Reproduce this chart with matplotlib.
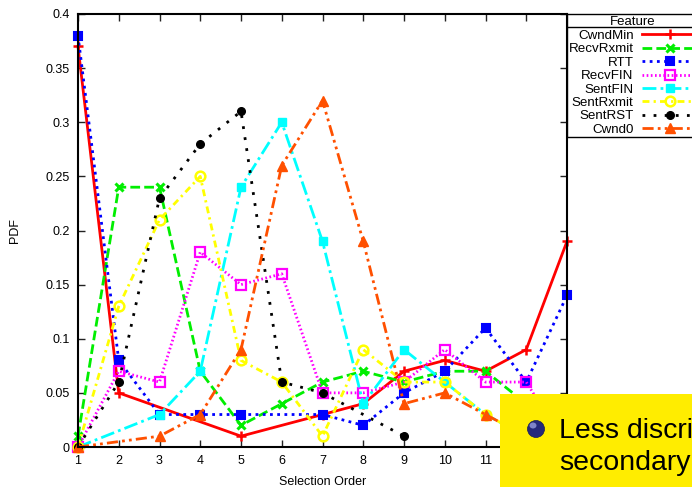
import matplotlib
matplotlib.use("Agg")
import matplotlib.pyplot as plt
from matplotlib.lines import Line2D
from matplotlib.patches import Rectangle, Ellipse

plt.rcParams['font.family'] = ['Liberation Sans', 'DejaVu Sans']

# ---------------- data ----------------
selection_order = [1, 2, 3, 4, 5, 6, 7, 8, 9, 10, 11, 12, 13]
x_tick_labels = ["1", "2", "3", "4", "5", "6", "7", "8", "9", "10", "11", "", ""]
cwnd_min   = [0.37, 0.05, None, None, 0.01, None, 0.03, 0.04, 0.07, 0.08, 0.07, 0.09, 0.19]
recv_rxmit = [0.01, 0.24, 0.24, 0.07, 0.02, 0.04, 0.06, 0.07, 0.06, 0.07, 0.07, 0.04, 0.02]
rtt        = [0.38, 0.08, 0.03, 0.03, 0.03, None, 0.03, 0.02, 0.05, 0.07, 0.11, 0.06, 0.14]
recv_fin   = [0.00, 0.07, 0.06, 0.18, 0.15, 0.16, 0.05, 0.05, 0.06, 0.09, 0.06, 0.06, 0.00]
sent_fin   = [0.00, None, 0.03, 0.07, 0.24, 0.30, 0.19, 0.04, 0.09, 0.06, 0.03, 0.01, None]
sent_rxmit = [0.00, 0.13, 0.21, 0.25, 0.08, 0.06, 0.01, 0.09, 0.06, 0.06, 0.03, 0.01, None]
sent_rst   = [0.00, 0.06, 0.23, 0.28, 0.31, 0.06, 0.05, None, 0.01, None, None, None, None]
cwnd0      = [0.00, None, 0.01, 0.03, 0.09, 0.26, 0.32, 0.19, 0.04, 0.05, 0.03, 0.01, None]

series_names = ["CwndMin", "RecvRxmit", "RTT", "RecvFIN", "SentFIN",
                "SentRxmit", "SentRST", "Cwnd0"]
series_values = [cwnd_min, recv_rxmit, rtt, recv_fin, sent_fin,
                 sent_rxmit, sent_rst, cwnd0]
y_ticks = [0, 0.05, 0.1, 0.15, 0.2, 0.25, 0.3, 0.35, 0.4]
y_tick_labels = ["0", "0.05", "0.1", "0.15", "0.2", "0.25", "0.3", "0.35", "0.4"]

styles = [
    dict(color="#ff0000", ls="-", marker="+", ms=7, mew=1.8, mfc="#ff0000"),
    dict(color="#00ee00", ls=(0, (3.5, 1.5)), marker="x", ms=6, mew=2.2, mfc="#00ee00"),
    dict(color="#0000ff", ls=(0, (1, 1.6)), marker="s", ms=5.5, mew=1.5, mfc="#0000ff"),
    dict(color="#ff00ff", ls=(0, (0.6, 0.9)), marker="s", ms=6.5, mew=1.6, mfc="none"),
    dict(color="#00ffff", ls=(0, (5, 1.5, 1, 1.5)), marker="s", ms=6, mew=1, mfc="#00ffff"),
    dict(color="#ffff00", ls=(0, (2.5, 1.5, 0.8, 1.5)), marker="o", ms=7, mew=1.8, mfc="none"),
    dict(color="#000000", ls=(0, (1, 3)), marker="o", ms=5.5, mew=1, mfc="#000000"),
    dict(color="#ff5000", ls=(0, (4, 1.5, 1, 1.5, 1, 1.5)), marker="^", ms=7, mew=1, mfc="#ff5000"),
]

W, H = 692, 487
fig = plt.figure(figsize=(W / 100, H / 100), dpi=100)
ax = fig.add_axes([78 / W, 1 - 447 / H, (567 - 78) / W, (447 - 14) / H])

for name, vals, st in zip(series_names, series_values, styles):
    xs = [x for x, v in zip(selection_order, vals) if v is not None]
    ys = [v for v in vals if v is not None]
    ax.plot(xs, ys, color=st["color"], ls=st["ls"], lw=2.0,
            marker=st["marker"], ms=st["ms"], mew=st["mew"],
            mfc=st["mfc"], mec=st["color"], label=name, clip_on=False)

ax.set_xlim(1, 13)
ax.set_ylim(0, 0.4)
ax.set_xticks(selection_order)
ax.set_xticklabels(x_tick_labels)
ax.set_yticks(y_ticks)
ax.set_yticklabels(y_tick_labels)
ax.tick_params(direction="in", length=5, width=1, top=True, right=True,
               labelsize=9, pad=6, colors="#222222", labelcolor="black")
for sp in ax.spines.values():
    sp.set_linewidth(1.5)

ax.set_xlabel("Selection Order", fontsize=9)
ax.xaxis.set_label_coords(0.5, (447 - 482) / 433)
ax.xaxis.label.set_va("center")
ax.set_ylabel("PDF", fontsize=9)
ax.yaxis.set_label_coords((15 - 78) / 489, 0.5)
ax.yaxis.label.set_va("center")

leg = ax.legend(loc="upper left", bbox_to_anchor=(567 / W, 1 - 14 / H),
                bbox_transform=fig.transFigure, borderaxespad=0,
                title="Feature", title_fontsize=9.5, fontsize=9.6,
                markerfirst=False, handlelength=4.2, handletextpad=0.6,
                labelspacing=0.08, borderpad=0.12, fancybox=False,
                framealpha=1, edgecolor="black")
leg._legend_box.sep = 1.5
leg.get_frame().set_linewidth(1.0)
fig.add_artist(Line2D([567 / W, 1.0], [1 - 27 / H, 1 - 27 / H],
                      color="black", lw=1.0, transform=fig.transFigure))

# yellow callout overlay
box = Rectangle((500 / W, 0), 1 - 500 / W, (487 - 394) / H,
                transform=fig.transFigure, facecolor="#ffed00",
                edgecolor="none", zorder=10)
fig.add_artist(box)
fig.add_artist(Ellipse((536 / W, 1 - 429 / H), 17 / W, 17 / H,
                       transform=fig.transFigure, facecolor="#26297a",
                       edgecolor="#1a1d55", lw=0.5, zorder=11))
fig.add_artist(Ellipse((533 / W, 1 - 425.5 / H), 7 / W, 6 / H,
                       transform=fig.transFigure, facecolor="#7f84c8",
                       edgecolor="none", zorder=12))
fig.text(559 / W, 1 - 438 / H, "Less discri", fontsize=20.5, va="baseline",
         ha="left", zorder=13)
fig.text(559 / W, 1 - 470 / H, "secondary", fontsize=20.5, va="baseline",
         ha="left", zorder=13)

fig.savefig("out.png", dpi=100)
